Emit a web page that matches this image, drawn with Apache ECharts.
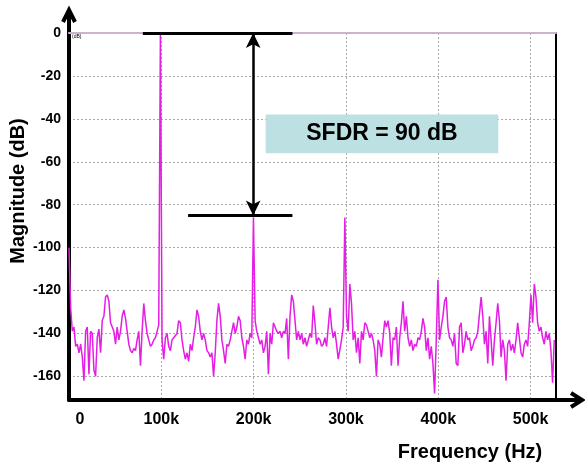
<!DOCTYPE html>
<html lang="en">

<head>
    <meta charset="UTF-8" />
    <title>SFDR</title>
    <style>
        html,
        body {
            margin: 0;
            padding: 0;
            background: #fff;
        }

        #chart {
            width: 585px;
            height: 465px;
        }
    </style>
</head>

<body>
    <div id="chart"></div>

    <script src="https://cdn.jsdelivr.net/npm/echarts@6/dist/echarts.min.js"></script>
    <script>
        // spectrum samples, one every 1.8 kHz (dB)
        const freqStepHz = 1800
        const mag0to100k = [-100, -128, -139, -137, -146, -145, -149, -145, -151, -162,
            -139, -137, -159, -139, -140, -157, -160, -142, -138, -149,
            -134, -132, -123, -122, -125, -135, -137, -139, -145, -137,
            -143, -139, -132, -129, -133, -139, -145, -148, -149, -147,
            -148, -143, -139, -155, -139, -126, -134, -140, -143, -146,
            -145, -143, -142, -139, -136, 0, -143]
        const mag100to200k = [-152, -142, -140, -146, -148, -143, -142, -142, -140, -134,
            -135, -143, -148, -152, -149, -153, -145, -148, -142, -137,
            -129, -132, -139, -143, -140, -143, -148, -149, -151, -149,
            -160, -149, -134, -126, -132, -143, -148, -154, -145, -146,
            -143, -139, -135, -140, -137, -132, -134, -142, -146, -152,
            -143, -145, -140, -142, -86, -134, -139, -142, -145]
        const mag200to300k = [-143, -149, -146, -139, -159, -140, -145, -135, -135, -139,
            -140, -139, -142, -139, -140, -133, -152, -132, -122, -125,
            -134, -143, -139, -143, -140, -145, -142, -146, -143, -140,
            -142, -127, -135, -145, -142, -143, -146, -145, -142, -146,
            -137, -128, -137, -142, -139, -145, -152, -152, -143, -137,
            -86, -132, -139, -117, -126, -143, -139, -149, -142]
        const mag300to400k = [-154, -139, -143, -135, -136, -139, -142, -140, -143, -148,
            -160, -143, -145, -151, -142, -134, -137, -134, -140, -155,
            -142, -143, -137, -155, -142, -135, -125, -139, -132, -142,
            -146, -143, -148, -145, -146, -142, -143, -139, -133, -137,
            -148, -142, -152, -146, -154, -168, -143, -115, -143, -137,
            -132, -125, -123, -137, -142, -143, -146, -140, -154]
        const mag400to530k = [-155, -137, -135, -149, -145, -139, -143, -142, -148, -146,
            -143, -142, -139, -131, -123, -132, -145, -139, -154, -132,
            -143, -155, -143, -135, -126, -134, -151, -143, -148, -162,
            -145, -143, -148, -145, -149, -143, -135, -142, -149, -151,
            -145, -143, -146, -135, -122, -135, -117, -123, -135, -139,
            -137, -142, -145, -139, -143, -140, -148, -163, -143]

        const yTicks = [0, -20, -40, -60, -80, -100, -120, -140, -160]
        const yGrid = [-20, -40, -60, -80, -100, -120, -140, -160]
        const xTicks = [0, 100000, 200000, 300000, 400000, 500000]
        const xGrid = [100000, 200000, 300000, 400000, 500000]
        const yMin = -171
        const yMax = 0
        const xMax = 527500

        // SFDR annotation
        const carrierDb = 0
        const spurDb = -85
        const sfdrLabel = 'SFDR = 90 dB'
        const topBarHz = [80000, 242000]
        const spurBarHz = [129000, 242000]
        const arrowHz = 199500
        const boxHz = [213000, 465000]
        const boxDb = [-38, -56]

        const font = '"Liberation Sans", Arial, sans-serif'

        const magDb = [].concat(mag0to100k, mag100to200k, mag200to300k, mag300to400k, mag400to530k)
        const spectrum = magDb.map((v, i) => [i * freqStepHz, v])

        const chart = echarts.init(document.getElementById('chart'))

        const option = {
            animation: false,
            grid: { left: 69, right: 29, top: 33, bottom: 65 },
            xAxis: [
                {
                    type: 'value',
                    min: 0,
                    max: xMax,
                    axisLine: { show: true, onZero: false, lineStyle: { color: '#000', width: 4 } },
                    axisTick: { show: false, customValues: xGrid },
                    axisLabel: {
                        customValues: xTicks,
                        margin: 12,
                        color: '#000',
                        fontSize: 16,
                        fontWeight: 'bold',
                        fontFamily: font,
                        formatter: v => v === 0 ? '{z|0}' : v / 1000 + 'k',
                        rich: { z: { padding: [0, 0, 0, 22], fontSize: 16, fontWeight: 'bold', fontFamily: font, color: '#000' } }
                    },
                    splitLine: { show: true, lineStyle: { color: '#a8a8a8', width: 1, type: [2, 2] } }
                },
                {
                    // pinkish frame line along 0 dB
                    type: 'value',
                    position: 'top',
                    min: 0,
                    max: xMax,
                    axisLine: { show: true, onZero: false, lineStyle: { color: '#cbb4cb', width: 2 } },
                    axisTick: { show: false },
                    axisLabel: { show: false },
                    splitLine: { show: false }
                }
            ],
            yAxis: [
                {
                    type: 'value',
                    min: yMin,
                    max: yMax,
                    axisLine: { show: true, onZero: false, lineStyle: { color: '#000', width: 4 } },
                    axisTick: { show: false, customValues: yGrid },
                    axisLabel: {
                        customValues: yTicks,
                        margin: 8,
                        color: '#000',
                        fontSize: 14,
                        fontWeight: 'bold',
                        fontFamily: font
                    },
                    splitLine: { show: true, lineStyle: { color: '#a8a8a8', width: 1, type: [2, 2] } }
                },
                {
                    // right frame
                    type: 'value',
                    position: 'right',
                    min: yMin,
                    max: yMax,
                    axisLine: { show: true, onZero: false, lineStyle: { color: '#000', width: 2 } },
                    axisTick: { show: false },
                    axisLabel: { show: false },
                    splitLine: { show: false }
                }
            ],
            series: [
                {
                    type: 'line',
                    data: spectrum,
                    showSymbol: false,
                    symbol: 'none',
                    silent: true,
                    lineStyle: { color: '#e41ee4', width: 1.5 },
                    markArea: {
                        silent: true,
                        itemStyle: { color: '#bde1e2' },
                        label: {
                            show: true,
                            position: 'inside',
                            formatter: sfdrLabel,
                            color: '#000',
                            fontSize: 23,
                            fontWeight: 'bold',
                            fontFamily: font
                        },
                        data: [[{ coord: [boxHz[0], boxDb[0]] }, { coord: [boxHz[1], boxDb[1]] }]]
                    },
                    markLine: {
                        silent: true,
                        symbol: 'none',
                        label: { show: false },
                        lineStyle: { color: '#000', width: 3, type: 'solid' },
                        data: [
                            [{ coord: [topBarHz[0], carrierDb] }, { coord: [topBarHz[1], carrierDb] }],
                            [{ coord: [spurBarHz[0], spurDb] }, { coord: [spurBarHz[1], spurDb] }],
                            [
                                { coord: [arrowHz, carrierDb], symbol: 'arrow', symbolSize: [11, 15], lineStyle: { width: 2.5 } },
                                { coord: [arrowHz, spurDb], symbol: 'arrow', symbolSize: [11, 15] }
                            ]
                        ]
                    }
                }
            ]
        }
        chart.setOption(option)

        // axis arrows sticking out of the frame, and the axis titles
        const o = chart.convertToPixel({ xAxisIndex: 0, yAxisIndex: 0 }, [0, yMin])
        const t = chart.convertToPixel({ xAxisIndex: 0, yAxisIndex: 0 }, [0, yMax])
        const r = chart.convertToPixel({ xAxisIndex: 0, yAxisIndex: 0 }, [xMax, yMin])
        chart.setOption({
            graphic: [
                { type: 'line', shape: { x1: t[0], y1: t[1], x2: t[0], y2: 10 }, style: { stroke: '#000', lineWidth: 4 } },
                { type: 'polyline', shape: { points: [[t[0] - 6, 22], [t[0], 10], [t[0] + 6, 22]] }, style: { stroke: '#000', lineWidth: 4, fill: null } },
                { type: 'line', shape: { x1: r[0], y1: o[1], x2: 581, y2: o[1] }, style: { stroke: '#000', lineWidth: 4 } },
                { type: 'polyline', shape: { points: [[571, o[1] - 7], [582, o[1]], [571, o[1] + 7]] }, style: { stroke: '#000', lineWidth: 4, fill: null } },
                { type: 'text', x: 72, y: 37, style: { text: '(dB)', font: '5px ' + font, fill: '#000', verticalAlign: 'middle' } },
                {
                    type: 'text', x: 18, y: 191, rotation: Math.PI / 2,
                    style: { text: 'Magnitude (dB)', font: 'bold 20px ' + font, fill: '#000', align: 'center', verticalAlign: 'middle' }
                },
                {
                    type: 'text', x: 470, y: 452,
                    style: { text: 'Frequency (Hz)', font: 'bold 20px ' + font, fill: '#000', align: 'center', verticalAlign: 'middle' }
                }
            ]
        })
    </script>
</body>

</html>
